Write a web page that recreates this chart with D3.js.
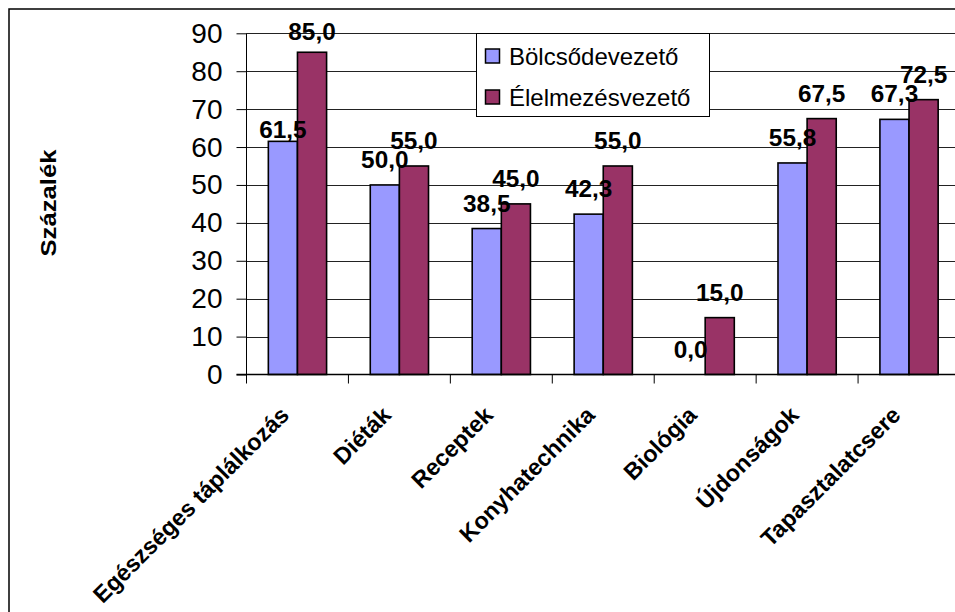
<!DOCTYPE html>
<html>
<head>
<meta charset="utf-8">
<script src="https://cdn.jsdelivr.net/npm/d3@7"></script>
<style>
  html, body { margin: 0; padding: 0; background: #fff; }
  svg { display: block; font-family: Arial, "Liberation Sans", sans-serif; }
</style>
</head>
<body>
<svg id="chart" width="955" height="612"></svg>
<script>
// Topics of interest, share of respondents (%)
const categories = ["Egészséges táplálkozás", "Diéták", "Receptek", "Konyhatechnika", "Biológia", "Újdonságok", "Tapasztalatcsere"];
const seriesNames = ["Bölcsődevezető", "Élelmezésvezető"];
const bolcsodeValues = [61.5, 50.0, 38.5, 42.3, 0.0, 55.8, 67.3];
const elelmezesValues = [85.0, 55.0, 45.0, 55.0, 15.0, 67.5, 72.5];
const yTicks = [0, 10, 20, 30, 40, 50, 60, 70, 80, 90];
const yTitle = "Százalék";

const colors = ["#9999FF", "#993366"];
const series = [bolcsodeValues, elelmezesValues];

const svg = d3.select("#chart");

// outer frame
svg.append("rect")
  .attr("x", 9).attr("y", 9).attr("width", 1000).attr("height", 700)
  .attr("fill", "#fff").attr("stroke", "#000").attr("stroke-width", 1.5);

const x0 = d3.scaleBand().domain(categories).range([246.5, 960]).paddingInner(0).paddingOuter(0);
const y = d3.scaleLinear().domain([0, 90]).range([374.5, 33.3]);
const bw = x0.bandwidth() / 3.5;

// gridlines
svg.append("g")
  .selectAll("line").data(yTicks.filter(d => d > 0)).join("line")
  .attr("x1", 246.5).attr("x2", 960)
  .attr("y1", d => Math.round(y(d)) + 0.5).attr("y2", d => Math.round(y(d)) + 0.5)
  .attr("stroke", "#222").attr("stroke-width", 1.1);

// y axis
const yAxis = d3.axisLeft(y).tickValues(yTicks).tickSize(10).tickPadding(14).tickFormat(d3.format("d"));
const gy = svg.append("g").attr("transform", "translate(246.5,0)").call(yAxis);
gy.select(".domain").attr("stroke", "#000").attr("d", `M0,${y(90)}V${y(0)}`);
gy.selectAll(".tick line").attr("stroke", "#000");
gy.selectAll(".tick text").attr("font-size", 28).attr("fill", "#000")
  .attr("font-family", "Arial, 'Liberation Sans', sans-serif");

// bars
series.forEach((vals, si) => {
  svg.append("g").selectAll("rect").data(vals).join("rect")
    .attr("x", (d, i) => x0(categories[i]) + x0.bandwidth() / 2 - bw + si * bw)
    .attr("y", d => y(d))
    .attr("width", bw)
    .attr("height", d => y(0) - y(d))
    .attr("fill", colors[si])
    .attr("stroke", "#000").attr("stroke-width", 1.6);
});

// x axis line and category ticks
const xAxisG = svg.append("g");
xAxisG.append("line").attr("x1", 236.5).attr("x2", 960).attr("y1", y(0)).attr("y2", y(0))
  .attr("stroke", "#000").attr("stroke-width", 1.3);
xAxisG.selectAll("line.tk").data(categories).join("line").attr("class", "tk")
  .attr("x1", d => x0(d)).attr("x2", d => x0(d))
  .attr("y1", y(0)).attr("y2", y(0) + 9)
  .attr("stroke", "#000");

// category labels, rotated
xAxisG.selectAll("text.cat").data(categories).join("text").attr("class", "cat")
  .attr("transform", d => `translate(${x0(d) + x0.bandwidth() / 2 - 7},${y(0) + 42}) rotate(-45)`)
  .attr("text-anchor", "end")
  .attr("font-size", 23.3).attr("font-weight", "bold")
  .text(d => d);

// value labels
const fmt = v => v.toFixed(1).replace(".", ",");
const labelLift = (si, i) => (si === 0 && i === 0) ? 3 : (si === 1 && i === 0) ? 12.5 : 17;
series.forEach((vals, si) => {
  svg.append("g").selectAll("text").data(vals).join("text")
    .attr("transform", (d, i) => {
      const cx = x0(categories[i]) + x0.bandwidth() / 2 - bw / 2 + si * bw;
      return `translate(${cx},${y(d) - labelLift(si, i)}) scale(1.06,1)`;
    })
    .attr("text-anchor", "middle")
    .attr("font-size", 23).attr("font-weight", "bold")
    .text(d => fmt(d));
});

// y axis title
svg.append("text")
  .attr("transform", "translate(55.5,203) rotate(-90)")
  .attr("text-anchor", "middle")
  .attr("font-size", 21.5).attr("font-weight", "bold")
  .attr("textLength", 107).attr("lengthAdjust", "spacingAndGlyphs")
  .text(yTitle);

// legend
const lg = svg.append("g");
lg.append("rect").attr("x", 476.5).attr("y", 33.5).attr("width", 233).attr("height", 83)
  .attr("fill", "#fff").attr("stroke", "#000").attr("stroke-width", 1);
seriesNames.forEach((name, i) => {
  const cy = 56.5 + i * 41;
  lg.append("rect").attr("x", 485.5).attr("y", cy - 7.5).attr("width", 14).attr("height", 14)
    .attr("fill", colors[i]).attr("stroke", "#000").attr("stroke-width", 1.5);
  lg.append("text").attr("x", 509).attr("y", cy + 8.5)
    .attr("font-size", 24).text(name);
});
</script>
</body>
</html>
